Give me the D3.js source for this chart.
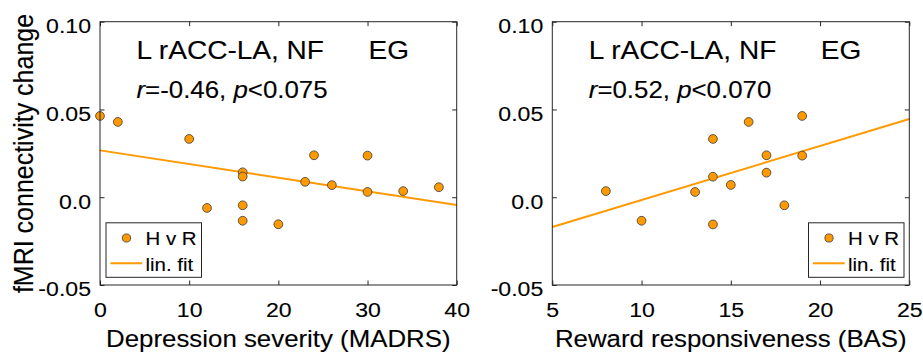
<!DOCTYPE html>
<html><head><meta charset="utf-8">
<script src="https://cdn.jsdelivr.net/npm/d3@7/dist/d3.min.js"></script>
<style>body{margin:0;background:#fff} svg{display:block}</style>
</head><body><svg id="c" width="923" height="352"></svg>
<script>
// ---- data ----
const madrs      = [0, 2, 10, 12, 16, 16, 16, 16, 20, 23, 24, 26, 30, 30, 34, 38];
const connMadrs  = [0.0463, 0.0429, 0.0332, -0.0061, 0.0142, 0.0118, -0.0046, -0.0134, -0.0154, 0.0088, 0.0239, 0.0069, 0.0237, 0.0030, 0.0035, 0.0057];
const bas        = [8, 10, 13, 14, 14, 14, 15, 16, 17, 17, 18, 19, 19];
const connBas    = [0.0035, -0.0134, 0.0030, 0.0332, 0.0117, -0.0155, 0.0070, 0.0429, 0.0239, 0.0140, -0.0046, 0.0463, 0.0237];
const fitMadrsX  = [0, 40];
const fitMadrsY  = [0.0267, -0.0044];
const fitBasX    = [5, 25];
const fitBasY    = [-0.0170, 0.0446];
const yTicks     = [-0.05, 0, 0.05, 0.10];
const yTickLabels= ["-0.05", "0.0", "0.05", "0.10"];
const xTicksMadrs= [0, 10, 20, 30, 40];
const xTicksBas  = [5, 10, 15, 20, 25];
const titleMain  = "L rACC-LA, NF";
const titleGroup = "EG";
const statsMadrs = ["-0.46", "0.075"];
const statsBas   = ["0.52", "0.070"];
const xLabels    = ["Depression severity (MADRS)", "Reward responsiveness (BAS)"];
const yLabel     = "fMRI connectivity change";
const legendLabels = ["H v R", "lin. fit"];

// ---- style ----
const FONT = '"Liberation Sans", Arial, Helvetica, sans-serif';
const SX = 1.1;
const ORANGE = "#FF9900";
const AXC = "#262626";
const TOP = 21.7, BOTTOM = 285;
const TSW = 0.12;
const svg = d3.select("#c").style("font-family", FONT);

function stretchText(sel, x, y, size, anchor){
  return sel.attr("x", 0).attr("y", 0).attr("dy", null)
    .attr("transform", `translate(${x},${y}) scale(${SX},1)`)
    .attr("font-size", size).attr("text-anchor", anchor)
    .attr("fill", "#000").attr("stroke", "#000").attr("stroke-width", TSW)
    .attr("font-family", FONT);
}

function panel(cfg){
  const x = d3.scaleLinear().domain(cfg.xDomain).range([cfg.left, cfg.right]);
  const y = d3.scaleLinear().domain([-0.05, 0.10]).range([BOTTOM, TOP]);
  const g = svg.append("g");

  // axes with inward ticks on all four sides
  const gb = g.append("g").attr("transform", `translate(0,${BOTTOM})`)
    .call(d3.axisBottom(x).tickValues(cfg.xTicks).tickSizeInner(-4.5).tickSizeOuter(0).tickFormat(d3.format("d")));
  const gt = g.append("g").attr("transform", `translate(0,${TOP})`)
    .call(d3.axisTop(x).tickValues(cfg.xTicks).tickSizeInner(-4.5).tickSizeOuter(0).tickFormat(""));
  const gl = g.append("g").attr("transform", `translate(${cfg.left},0)`)
    .call(d3.axisLeft(y).tickValues(yTicks).tickSizeInner(-4.5).tickSizeOuter(0)
      .tickFormat((d,i) => yTickLabels[i]));
  const gr = g.append("g").attr("transform", `translate(${cfg.right},0)`)
    .call(d3.axisRight(y).tickValues(yTicks).tickSizeInner(-4.5).tickSizeOuter(0).tickFormat(""));
  [gb, gt, gl, gr].forEach(a => {
    a.select(".domain").remove();
    a.selectAll(".tick line").attr("stroke", AXC).attr("stroke-width", 1);
  });
  gb.selectAll(".tick text").each(function(){ stretchText(d3.select(this), 0, 32, 21, "middle"); });
  gl.selectAll(".tick text").each(function(){ stretchText(d3.select(this), -9, 10.8, 21, "end"); });

  // fit line
  const line = d3.line().x(d => x(d[0])).y(d => y(d[1]));
  g.append("path").datum(cfg.fitX.map((v,i) => [v, cfg.fitY[i]]))
    .attr("d", line).attr("fill", "none").attr("stroke", ORANGE).attr("stroke-width", 2);

  // points
  g.append("g").selectAll("circle").data(cfg.xs.map((v,i) => [v, cfg.ys[i]])).join("circle")
    .attr("cx", d => x(d[0])).attr("cy", d => y(d[1])).attr("r", 4.4)
    .attr("fill", ORANGE).attr("stroke", "#3a3a3a").attr("stroke-width", 0.8);

  // box
  g.append("rect").attr("x", cfg.left).attr("y", TOP)
    .attr("width", cfg.right - cfg.left).attr("height", BOTTOM - TOP)
    .attr("fill", "none").attr("stroke", AXC).attr("stroke-width", 1);

  // titles
  const tx = cfg.left + 36.5;
  stretchText(g.append("text").text(titleMain), tx, 58.5, 25.5, "start");
  stretchText(g.append("text").text(titleGroup), cfg.left + 268.5, 58.5, 25.5, "start");
  const st = stretchText(g.append("text"), tx, 97.5, 23.5, "start");
  st.append("tspan").attr("font-style", "italic").text("r");
  st.append("tspan").text("=" + cfg.stats[0] + ", ");
  st.append("tspan").attr("font-style", "italic").text("p");
  st.append("tspan").text("<" + cfg.stats[1]);

  // x label
  stretchText(g.append("text").text(cfg.xLabel), (cfg.left + cfg.right) / 2, 346.5, 23.5, "middle");

  // legend
  const lx = cfg.legendX, ly = 222.8;
  const lg = g.append("g");
  lg.append("rect").attr("x", lx).attr("y", ly).attr("width", 95.5).attr("height", 54.5)
    .attr("fill", "#fff").attr("stroke", AXC).attr("stroke-width", 1);
  lg.append("circle").attr("cx", lx + 20.5).attr("cy", 238).attr("r", 4.1)
    .attr("fill", ORANGE).attr("stroke", "#3a3a3a").attr("stroke-width", 0.8);
  lg.append("line").attr("x1", lx + 4.5).attr("x2", lx + 36.2).attr("y1", 263.3).attr("y2", 263.3)
    .attr("stroke", ORANGE).attr("stroke-width", 2);
  stretchText(lg.append("text").text(legendLabels[0]), lx + 39.5, 245, 18.6, "start");
  stretchText(lg.append("text").text(legendLabels[1]), lx + 39.5, 270.5, 18.6, "start");
}

panel({left: 100, right: 456.7, xDomain: [0, 40], xTicks: xTicksMadrs,
  xs: madrs, ys: connMadrs, fitX: fitMadrsX, fitY: fitMadrsY,
  stats: statsMadrs, xLabel: xLabels[0], legendX: 106});
panel({left: 552.3, right: 909.3, xDomain: [5, 25], xTicks: xTicksBas,
  xs: bas, ys: connBas, fitX: fitBasX, fitY: fitBasY,
  stats: statsBas, xLabel: xLabels[1], legendX: 808.5});

// y label (left panel only)
svg.append("text").text(yLabel)
  .attr("transform", `translate(33.3,153.5) scale(${SX},1) rotate(-90)`)
  .attr("font-size", 25).attr("text-anchor", "middle").attr("fill", "#000")
  .attr("stroke", "#000").attr("stroke-width", TSW).attr("font-family", FONT);
</script>
</body></html>
